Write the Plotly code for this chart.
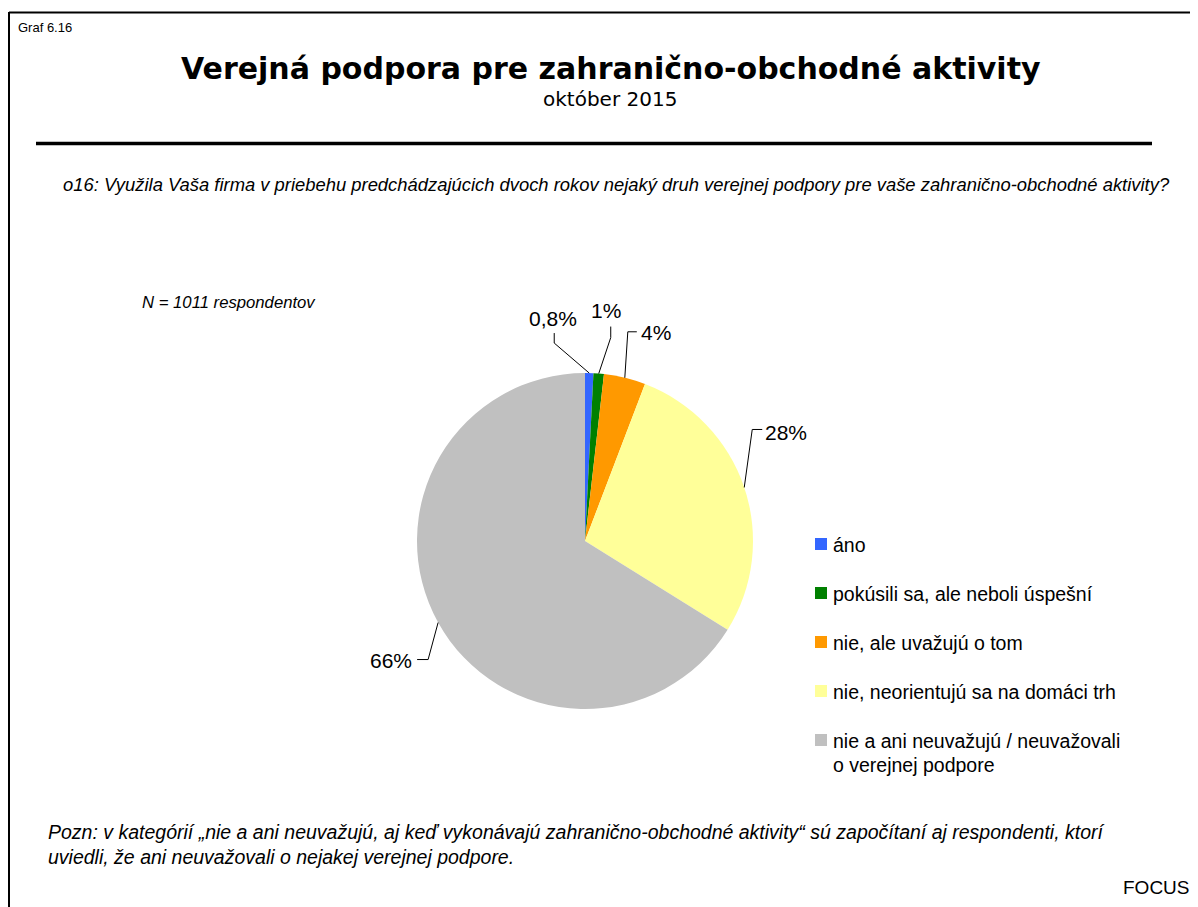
import math
import plotly.graph_objects as go

# page is 1198x907; the HTML body has an 8px margin, so the figure is 1190x899
PAGE_OFF = 8
W, H = 1190, 899

# ---- data ----
categories = [
    "áno",
    "pokúsili sa, ale neboli úspešní",
    "nie, ale uvažujú o tom",
    "nie, neorientujú sa na domáci trh",
    "nie a ani neuvažujú / neuvažovali<br>o verejnej podpore",
]
values = [0.8, 1, 4, 28, 66]
value_labels = ["0,8%", "1%", "4%", "28%", "66%"]
colors = ["#3366FF", "#008000", "#FF9900", "#FFFF99", "#C0C0C0"]

chart_no = "Graf 6.16"
title = "Verejná podpora pre zahraničnо-obchodné aktivity"
subtitle = "október 2015"
question = ("o16: Využila Vaša firma v priebehu predchádzajúcich dvoch rokov nejaký druh "
            "verejnej podpory pre vaše zahranično-obchodné aktivity?")
n_note = "N = 1011 respondentov"
footnote_lines = [
    "Pozn: v kategórií „nie a ani neuvažujú, aj keď vykonávajú zahranično-obchodné aktivity“ "
    "sú započítaní aj respondenti, ktorí",
    "uviedli, že ani neuvažovali o nejakej verejnej podpore.",
]
source = "FOCUS"

# ---- layout geometry (page pixels) ----
CX, CY, R = 585, 541, 168


def X(x):
    return (x - PAGE_OFF) / W


def Y(y):
    return 1 - (y - PAGE_OFF) / H


FONT = "Liberation Sans, Arial, sans-serif"

fig = go.Figure()
fig.add_trace(go.Pie(
    labels=[c.replace("<br>", " ") for c in categories], values=values, sort=False,
    direction="clockwise", rotation=0,
    marker=dict(colors=colors, line=dict(width=0)),
    textinfo="none", hoverinfo="label+percent", showlegend=False,
    domain=dict(x=[X(CX - R), X(CX + R)], y=[Y(CY + R), Y(CY - R)]),
))

shapes = []
annotations = []

# frame
shapes.append(dict(type="line", xref="paper", yref="paper", x0=X(9), y0=Y(12.5), x1=X(1199), y1=Y(12.5),
                   line=dict(color="black", width=2)))
shapes.append(dict(type="line", xref="paper", yref="paper", x0=X(9), y0=Y(12), x1=X(9), y1=Y(910),
                   line=dict(color="black", width=2)))
# separator line
shapes.append(dict(type="line", xref="paper", yref="paper", x0=X(36), y0=Y(143.5), x1=X(1152), y1=Y(143.5),
                   line=dict(color="black", width=3.5)))

# data labels with leader lines (anchor derived from slice mid-angles)
label_style = [
    dict(elbow=(-35, -30), end=(0, -10), text_off=(-1, -15), xanchor="center"),
    dict(elbow=(12, -36), end=(0, -11), text_off=(-5, -16), xanchor="center"),
    dict(elbow=(3, -46), end=(9, 0), text_off=(2, 1), xanchor="left"),
    dict(elbow=(8, -58), end=(10, 0), text_off=(1, 3), xanchor="left"),
    dict(elbow=(-10, 37), end=(-11, 0), text_off=(-3, 1), xanchor="right"),
]
total = sum(values)
cum = 0
for v, lab, st in zip(values, value_labels, label_style):
    mid = (cum + v / 2) / total * 2 * math.pi
    cum += v
    ax = CX + R * math.sin(mid)
    ay = CY - R * math.cos(mid)
    ex, ey = ax + st["elbow"][0], ay + st["elbow"][1]
    fx, fy = ex + st["end"][0], ey + st["end"][1]
    for (x0, y0, x1, y1) in [(ax, ay, ex, ey), (ex, ey, fx, fy)]:
        shapes.append(dict(type="line", xref="paper", yref="paper", x0=X(x0), y0=Y(y0), x1=X(x1), y1=Y(y1),
                           line=dict(color="black", width=1)))
    annotations.append(dict(text=lab, x=X(fx + st["text_off"][0]), y=Y(fy + st["text_off"][1]),
                            xanchor=st["xanchor"], yanchor="middle",
                            font=dict(family=FONT, size=21, color="black")))

# manual legend
leg_y = [544, 593, 642, 691, 740]
for cat, col, ly in zip(categories, colors, leg_y):
    shapes.append(dict(type="rect", xref="paper", yref="paper", x0=X(815), x1=X(827), y0=Y(ly + 6), y1=Y(ly - 6),
                       fillcolor=col, line=dict(width=0)))
    for i, line in enumerate(cat.split("<br>")):
        annotations.append(dict(text=line, x=X(831), y=Y(ly + 1 + i * 24), xanchor="left", yanchor="middle",
                                font=dict(family=FONT, size=19.5, color="black")))

# texts
annotations += [
    dict(text=chart_no, x=X(16), y=Y(28), xanchor="left", yanchor="middle",
         font=dict(family=FONT, size=13, color="black")),
    dict(text="<b>" + title + "</b>", x=X(611), y=Y(68), xanchor="center", yanchor="middle",
         font=dict(family="DejaVu Sans", size=30, color="black")),
    dict(text=subtitle, x=X(610), y=Y(99), xanchor="center", yanchor="middle",
         font=dict(family="DejaVu Sans", size=20, color="black")),
    dict(text="<i>" + question + "</i>", x=X(616), y=Y(185), xanchor="center", yanchor="middle",
         font=dict(family=FONT, size=18.4, color="black")),
    dict(text="<i>" + n_note + "</i>", x=X(140), y=Y(302), xanchor="left", yanchor="middle",
         font=dict(family=FONT, size=16.7, color="black")),
    dict(text="<i>" + footnote_lines[0] + "</i>", x=X(46), y=Y(832), xanchor="left", yanchor="middle",
         font=dict(family=FONT, size=19.5, color="black")),
    dict(text="<i>" + footnote_lines[1] + "</i>", x=X(46), y=Y(857), xanchor="left", yanchor="middle",
         font=dict(family=FONT, size=19.5, color="black")),
    dict(text=source, x=X(1192), y=Y(887), xanchor="right", yanchor="middle",
         font=dict(family=FONT, size=19, color="black")),
]
for a in annotations:
    a.setdefault("xref", "paper")
    a.setdefault("yref", "paper")
    a.setdefault("showarrow", False)

fig.update_layout(
    width=W, height=H, margin=dict(l=0, r=0, t=0, b=0),
    paper_bgcolor="white", plot_bgcolor="white",
    shapes=shapes, annotations=annotations, showlegend=False,
)

fig.write_html("out.html", config={"displayModeBar": False})
